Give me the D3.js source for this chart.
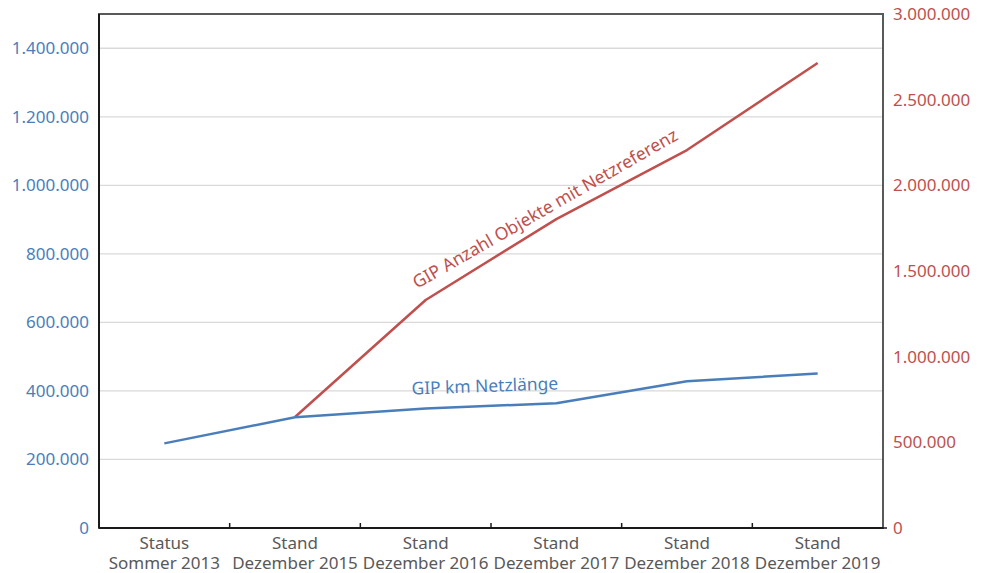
<!DOCTYPE html>
<html>
<head>
<meta charset="utf-8">
<script src="https://cdn.jsdelivr.net/npm/d3@7"></script>
<style>
  body { margin: 0; background: #fff; }
  text { font-family: "Noto Sans", "Open Sans", sans-serif; }
</style>
</head>
<body>
<div id="chart"></div>
<script>
// categories (two-line labels)
const categories = [
  ["Status", "Sommer 2013"],
  ["Stand", "Dezember 2015"],
  ["Stand", "Dezember 2016"],
  ["Stand", "Dezember 2017"],
  ["Stand", "Dezember 2018"],
  ["Stand", "Dezember 2019"]
]
// GIP km Netzlänge (left axis)
const netzlaenge = [247000, 323000, 349000, 364000, 428000, 451000]
// GIP Anzahl Objekte mit Netzreferenz (right axis), no value for 2013
const objekte = [null, 648000, 1331000, 1803000, 2206000, 2714000]
const leftTicks = [0, 200000, 400000, 600000, 800000, 1000000, 1200000, 1400000]
const rightTicks = [0, 500000, 1000000, 1500000, 2000000, 2500000, 3000000]

const width = 981, height = 573
const margin = { top: 14, right: 98, bottom: 45, left: 99 }
const innerW = width - margin.left - margin.right
const innerH = height - margin.top - margin.bottom

const blue = "#4a7ebb", red = "#c0504d"
const fmt = (v) => d3.format(",")(v).replace(/,/g, ".")

const svg = d3.select("#chart").append("svg")
  .attr("width", width).attr("height", height)
const g = svg.append("g").attr("transform", `translate(${margin.left},${margin.top})`)

const x = d3.scaleBand().domain(categories.map((d, i) => i)).range([0, innerW])
const yL = d3.scaleLinear().domain([0, 1500000]).range([innerH, 0])
const yR = d3.scaleLinear().domain([0, 3000000]).range([innerH, 0])

// gridlines
g.append("g").selectAll("line").data(leftTicks.slice(1)).enter().append("line")
  .attr("x1", 0).attr("x2", innerW)
  .attr("y1", (d) => yL(d)).attr("y2", (d) => yL(d))
  .style("stroke", "#d9d9d9").style("stroke-width", 1.3)

// left axis labels
g.append("g").selectAll("text").data(leftTicks).enter().append("text")
  .attr("x", -10).attr("y", (d) => yL(d)).attr("dy", "0.35em")
  .attr("text-anchor", "end")
  .style("font-size", "17px").style("fill", blue)
  .text(fmt)

// right axis labels
g.append("g").selectAll("text").data(rightTicks).enter().append("text")
  .attr("x", innerW + 10).attr("y", (d) => yR(d)).attr("dy", "0.35em")
  .attr("text-anchor", "start")
  .style("font-size", "17px").style("fill", red)
  .text(fmt)

// frame: left, bottom, right, top
const frame = g.append("g").style("stroke-width", 2).style("fill", "none")
frame.append("rect").attr("x", 0).attr("y", 0).attr("width", innerW).attr("height", innerH)
  .style("stroke", "#595959")
frame.append("line").attr("x1", 0).attr("x2", innerW).attr("y1", innerH).attr("y2", innerH)
  .style("stroke", "#1a1a1a")
frame.append("line").attr("x1", 0).attr("x2", 0).attr("y1", 0).attr("y2", innerH)
  .style("stroke", "#1a1a1a")

// x tick marks between categories
g.append("g").selectAll("line").data(categories.slice(1).map((d, i) => i + 1)).enter().append("line")
  .attr("x1", (i) => x(i)).attr("x2", (i) => x(i))
  .attr("y1", innerH).attr("y2", innerH - 5)
  .style("stroke", "#1a1a1a").style("stroke-width", 1.5)
g.append("line").attr("x1", innerW).attr("x2", innerW + 4)
  .attr("y1", innerH).attr("y2", innerH)
  .style("stroke", "#1a1a1a").style("stroke-width", 1.5)

// x labels
const xl = g.append("g").selectAll("text").data(categories).enter().append("text")
  .attr("x", (d, i) => x(i) + x.bandwidth() / 2)
  .attr("y", innerH + 21)
  .attr("text-anchor", "middle")
  .style("font-size", "17px").style("fill", "#595959")
xl.append("tspan").text((d) => d[0])
xl.append("tspan").attr("x", (d, i) => x(i) + x.bandwidth() / 2).attr("dy", 20).text((d) => d[1])

// lines
const lineL = d3.line()
  .x((d, i) => x(i) + x.bandwidth() / 2)
  .y((d) => yL(d))
const lineR = d3.line()
  .defined((d) => d != null)
  .x((d, i) => x(i) + x.bandwidth() / 2)
  .y((d) => yR(d))

g.append("path").datum(objekte).attr("d", lineR)
  .style("fill", "none").style("stroke", red).style("stroke-width", 2.5)
  .style("stroke-linejoin", "round")
g.append("path").datum(netzlaenge).attr("d", lineL)
  .style("fill", "none").style("stroke", blue).style("stroke-width", 2.5)
  .style("stroke-linejoin", "round")

// series labels
g.append("text")
  .attr("transform", `translate(${548 - margin.left},${214 - margin.top}) rotate(-29.8)`)
  .attr("text-anchor", "middle")
  .style("font-size", "17.6px").style("fill", red)
  .text("GIP Anzahl Objekte mit Netzreferenz")
g.append("text")
  .attr("transform", `translate(${485 - margin.left},${392 - margin.top}) rotate(-2)`)
  .attr("text-anchor", "middle")
  .style("font-size", "17.4px").style("fill", blue)
  .text("GIP km Netzlänge")
</script>
</body>
</html>
